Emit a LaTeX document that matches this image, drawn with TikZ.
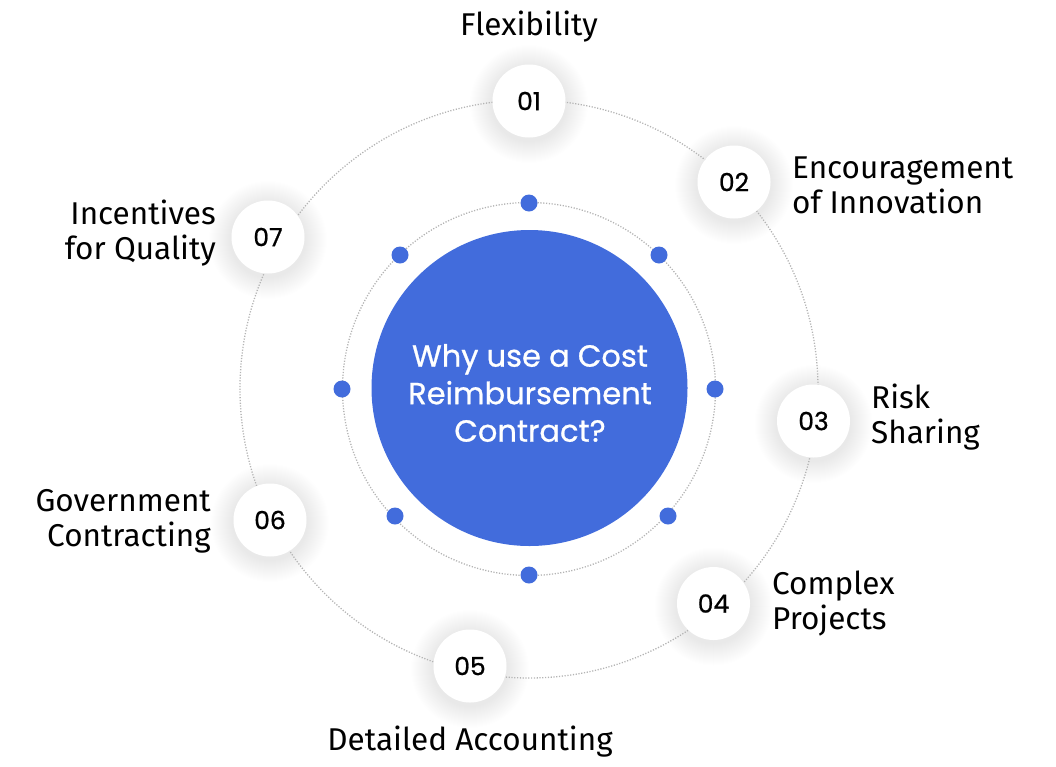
\documentclass[tikz,border=0pt]{standalone}
\usepackage{fontspec}
\setmainfont{Fira Sans}
\newfontfamily\hubfont{Poppins}[FakeBold=0.8]
\definecolor{mainblue}{RGB}{66,108,220}
\definecolor{ringgray}{RGB}{180,180,180}
\tikzset{
  x=1pt, y=-1pt,
  dotring/.style={draw=ringgray, line width=1.3pt, dash pattern=on 1.2pt off 1.6pt},
  numcirc/.style={circle, fill=white, minimum size=73pt, inner sep=0pt, font=\hubfont\fontsize{25}{25}\selectfont, text=black},
  bluedot/.style={circle, fill=mainblue, minimum size=17pt, inner sep=0pt},
  hub/.style={circle, fill=mainblue, minimum size=316pt, inner sep=0pt},
  hubtext/.style={align=center, text=white, font=\hubfont\fontsize{30.5}{37.5}\selectfont, inner sep=0pt},
  lbl/.style={font=\fontsize{31.5}{35}\selectfont, inner sep=0pt, text=black},
}
\newcommand{\glowat}[1]{%
  \foreach \k in {1,...,22}{\fill[black, opacity=0.004] ([yshift=-3pt]#1) circle ({37+\k});}}
\begin{document}
\begin{tikzpicture}
\useasboundingbox (0,0) rectangle (1056,766);
\coordinate (c) at (529,389);
\coordinate (p1) at (529,101);
\coordinate (p2) at (734,182);
\coordinate (p3) at (813.5,421);
\coordinate (p4) at (713.5,603.5);
\coordinate (p5) at (470,666);
\coordinate (p6) at (270,520);
\coordinate (p7) at (268,237);
% glows
\glowat{p1}\glowat{p2}\glowat{p3}\glowat{p4}\glowat{p5}\glowat{p6}\glowat{p7}
% rings
\draw[dotring] (c) circle (289);
\draw[dotring] (c) circle (186.5);
% hub
\node[hub] (hubc) at (529.5,388) {};
\node[hubtext] (hubt) at (530,393) {Why use a Cost\\Reimbursement\\Contract?};
% blue dots on inner ring
\node[bluedot] (d1) at (529,203) {};
\node[bluedot] (d2) at (659,255) {};
\node[bluedot] (d3) at (715,389) {};
\node[bluedot] (d4) at (668,516) {};
\node[bluedot] (d5) at (529,575) {};
\node[bluedot] (d6) at (395,516) {};
\node[bluedot] (d7) at (342,389) {};
\node[bluedot] (d8) at (400,255) {};
% number circles
\node[numcirc] (n1) at (p1) {01};
\node[numcirc] (n2) at (p2) {02};
\node[numcirc] (n3) at (p3) {03};
\node[numcirc] (n4) at (p4) {04};
\node[numcirc] (n5) at (p5) {05};
\node[numcirc] (n6) at (p6) {06};
\node[numcirc] (n7) at (p7) {07};
% labels (base anchor = baseline of last line)
\node[lbl, anchor=base] (l1) at (529,35) {Flexibility};
\node[lbl, anchor=base west, align=left] (l2) at (792,213) {Encouragement\\of Innovation};
\node[lbl, anchor=base west, align=left] (l3) at (871,443) {Risk\\Sharing};
\node[lbl, anchor=base west, align=left] (l4) at (772,629) {Complex\\Projects};
\node[lbl, anchor=base] (l5) at (470,750) {Detailed Accounting};
\node[lbl, anchor=base east, align=right] (l6) at (211,546) {Government\\Contracting};
\node[lbl, anchor=base east, align=right] (l7) at (216,259) {Incentives\\for Quality};
\end{tikzpicture}
\end{document}
